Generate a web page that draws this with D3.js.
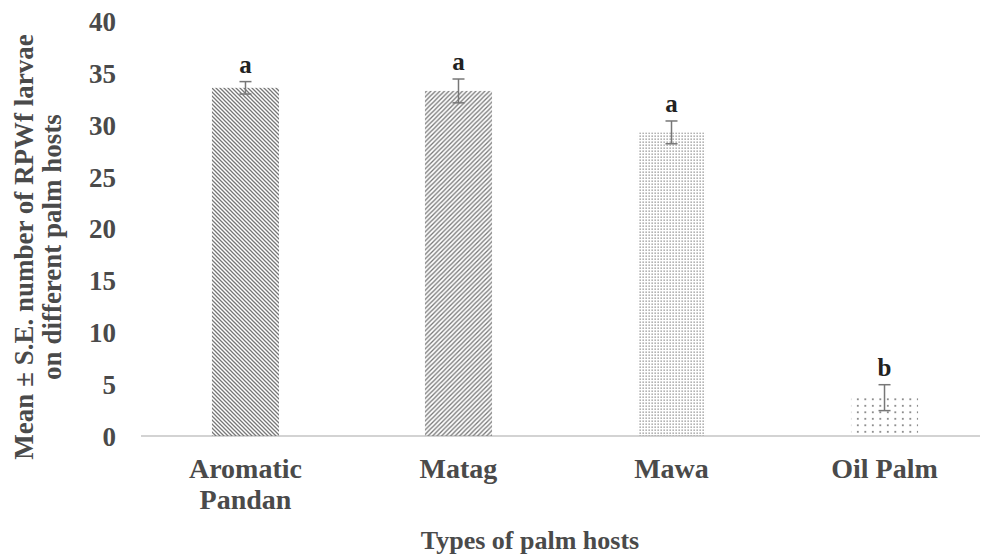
<!DOCTYPE html>
<html><head><meta charset="utf-8">
<script src="https://cdn.jsdelivr.net/npm/d3@7"></script>
<style>body{margin:0;background:#fff}svg{display:block}</style>
</head><body><svg id="c" width="986" height="557"></svg>
<script>
const categories = [["Aromatic","Pandan"],["Matag"],["Mawa"],["Oil Palm"]];
const means = [33.6, 33.3, 29.3, 3.7];
const errors = [0.6, 1.15, 1.1, 1.25];
const letters = ["a","a","a","b"];
const patterns = ["diagDown","diagUp","denseDots","sparseDots"];
const yTicks = [0,5,10,15,20,25,30,35,40];
const yTitle = ["Mean \u00b1 S.E. number of RPWf larvae","on different palm hosts"];
const xTitle = "Types of palm hosts";

const svg = d3.select("#c");
const font = "'Liberation Serif','Times New Roman',serif";
const txt = "#4a4a4a";
const x = d3.scaleBand().domain(d3.range(categories.length)).range([141, 989]).paddingInner(0.685).paddingOuter(0.333);
const y = d3.scaleLinear().domain([0,40]).range([436, 21.5]);

const defs = svg.append("defs");
let p = defs.append("pattern").attr("id","diagDown").attr("patternUnits","userSpaceOnUse").attr("width",4).attr("height",4);
p.append("path").attr("d","M-1,-1 L5,5 M-1,3 L1,5 M3,-1 L5,1").attr("stroke","#777").attr("stroke-width",1.3);
p = defs.append("pattern").attr("id","diagUp").attr("patternUnits","userSpaceOnUse").attr("width",4.5).attr("height",4.5);
p.append("path").attr("d","M-1,5.5 L5.5,-1 M-1,1 L1,-1 M3.5,5.5 L5.5,3.5").attr("stroke","#777").attr("stroke-width",1.3);
p = defs.append("pattern").attr("id","denseDots").attr("patternUnits","userSpaceOnUse").attr("width",3).attr("height",3);
p.append("rect").attr("x",0.5).attr("y",0.5).attr("width",1.3).attr("height",1.3).attr("fill","#888");
p = defs.append("pattern").attr("id","sparseDots").attr("patternUnits","userSpaceOnUse").attr("width",7.5).attr("height",6.5);
p.append("rect").attr("x",2).attr("y",2).attr("width",1.6).attr("height",1.6).attr("fill","#666");

svg.append("line").attr("x1",141).attr("x2",980).attr("y1",y(0)).attr("y2",y(0)).attr("stroke","#c4c4c4").attr("stroke-width",1.3);

const yAxis = svg.append("g").attr("transform","translate(116,0)").call(d3.axisLeft(y).tickValues(yTicks).tickSize(0).tickPadding(0));
yAxis.select(".domain").remove();
yAxis.selectAll("text").attr("font-family",font).attr("font-weight","bold").attr("font-size",27).attr("fill",txt).attr("dy","0.34em");

svg.selectAll("rect.bar").data(means).join("rect").attr("class","bar")
  .attr("x",(d,i)=>x(i)).attr("width",x.bandwidth())
  .attr("y",d=>y(d)).attr("height",d=>y(0)-y(d))
  .attr("fill",(d,i)=>`url(#${patterns[i]})`);

const eg = svg.append("g").attr("stroke","#777").attr("stroke-width",1.5);
means.forEach((m,i)=>{
  const cx = x(i)+x.bandwidth()/2;
  eg.append("line").attr("x1",cx).attr("x2",cx).attr("y1",y(m+errors[i])).attr("y2",y(m-errors[i]));
  [m+errors[i], m-errors[i]].forEach(v=>eg.append("line").attr("x1",cx-6).attr("x2",cx+6).attr("y1",y(v)).attr("y2",y(v)));
});

svg.selectAll("text.lt").data(letters).join("text").attr("class","lt")
  .attr("x",(d,i)=>x(i)+x.bandwidth()/2).attr("y",(d,i)=>y(means[i]+errors[i])-9)
  .attr("text-anchor","middle").attr("font-family",font).attr("font-weight","bold").attr("font-size",25).attr("fill","#222")
  .text(d=>d);

const xl = svg.selectAll("text.xl").data(categories).join("text").attr("class","xl")
  .attr("x",(d,i)=>x(i)+x.bandwidth()/2).attr("y",478)
  .attr("text-anchor","middle").attr("font-family",font).attr("font-weight","bold").attr("font-size",28).attr("fill",txt);
xl.each(function(d){
  const t = d3.select(this);
  d.forEach((s,j)=>t.append("tspan").attr("x",t.attr("x")).attr("dy",j?31:0).text(s));
});

svg.append("text").attr("x",530).attr("y",549).attr("text-anchor","middle").attr("font-family",font).attr("font-weight","bold").attr("font-size",26).attr("fill",txt).text(xTitle);

const yt = svg.append("text").attr("transform","translate(33,247) rotate(-90)").attr("text-anchor","middle")
  .attr("font-family",font).attr("font-weight","bold").attr("font-size",27).attr("fill",txt);
yTitle.forEach((s,j)=>yt.append("tspan").attr("x",0).attr("dy",j?28:0).text(s));
</script></body></html>
